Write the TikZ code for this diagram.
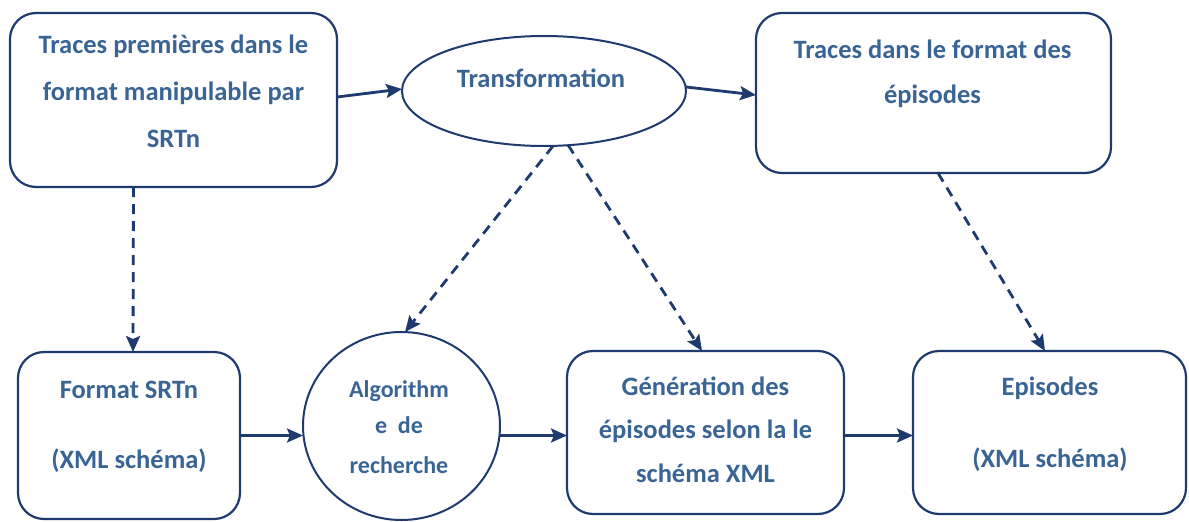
\documentclass[tikz,border=0pt]{standalone}
\usepackage{fontspec}
\setmainfont{Carlito}
\usetikzlibrary{arrows.meta,shapes.geometric}
\definecolor{linec}{HTML}{1F3A6E}
\definecolor{txtc}{HTML}{3A6494}
\begin{document}
\begin{tikzpicture}[x=1pt,y=-1pt,
  box/.style={draw=linec, line width=2.2pt, rounded corners=26pt, inner sep=0pt, outer sep=0pt},
  oval/.style={draw=linec, line width=2pt, ellipse, inner sep=0pt, outer sep=0pt},
  txt/.style={anchor=base, inner sep=0pt, text=txtc, font=\fontsize{26.5}{30}\selectfont\bfseries},
  stxt/.style={txt, font=\fontsize{24}{28}\selectfont\bfseries},
  arr/.style={draw=linec, line width=2.8pt, -{Stealth[length=16pt,width=14pt,inset=3pt]}},
  darr/.style={arr, dash pattern=on 10pt off 7pt}]
\useasboundingbox (0,0) rectangle (1189,522);
% shapes
\node[box, minimum width=327pt, minimum height=174pt] (b1) at (173.5,100) {};
\node[oval, minimum width=284pt, minimum height=110pt] (tr) at (544,91) {};
\node[box, minimum width=355pt, minimum height=160pt] (b2) at (933.5,93) {};
\node[box, minimum width=222pt, minimum height=167pt] (b3) at (129,435.5) {};
\node[oval, minimum width=197pt, minimum height=188pt] (alg) at (401.5,426) {};
\node[box, minimum width=277pt, minimum height=163pt] (gen) at (705.5,432.5) {};
\node[box, minimum width=273pt, minimum height=163pt] (ep) at (1049.5,432.5) {};
% texts
\node[txt] (b1t1) at (173.5,53) {Traces premières dans le};
\node[txt] (b1t2) at (173.5,100) {format manipulable par};
\node[txt] (b1t3) at (173.5,147) {SRTn};
\node[txt] (trt) at (541,87) {Transformation};
\node[txt] (b2t1) at (932.5,58) {Traces dans le format des};
\node[txt] (b2t2) at (932.5,103) {épisodes};
\node[txt] (b3t1) at (129,398) {Format SRTn};
\node[txt] (b3t2) at (129,468) {(XML schéma)};
\node[stxt] (algt1) at (399,397) {Algorithm};
\node[stxt] (algt2) at (399,433) {e~~de};
\node[stxt] (algt3) at (399,473) {recherche};
\node[txt] (gent1) at (705.5,395) {Génération des};
\node[txt] (gent2) at (705.5,438) {épisodes selon la le};
\node[txt] (gent3) at (705.5,482) {schéma XML};
\node[txt] (ept1) at (1050,395) {Episodes};
\node[txt] (ept2) at (1050,467) {(XML schéma)};
% connectors
\draw[arr] ([yshift=3pt]b1.east) -- ([yshift=2pt]tr.west);
\draw[arr] ([yshift=4pt]tr.east) -- ([yshift=-2pt]b2.west);
\draw[darr] ([xshift=-40pt]b1.south) -- ([xshift=4pt]b3.north);
\draw[darr] ([xshift=9pt]tr.south) -- ([xshift=3.5pt]alg.north);
\draw[darr] ([xshift=24pt,yshift=1pt]tr.south) -- ([xshift=-3.5pt]gen.north);
\draw[darr] ([xshift=4.5pt]b2.south) -- ([xshift=-4.5pt]ep.north);
\draw[arr] (b3.east) -- (b3.east -| alg.west);
\draw[arr] (alg.east |- b3.east) -- (gen.west |- b3.east);
\draw[arr] (gen.east |- b3.east) -- (ep.west |- b3.east);
\end{tikzpicture}
\end{document}
